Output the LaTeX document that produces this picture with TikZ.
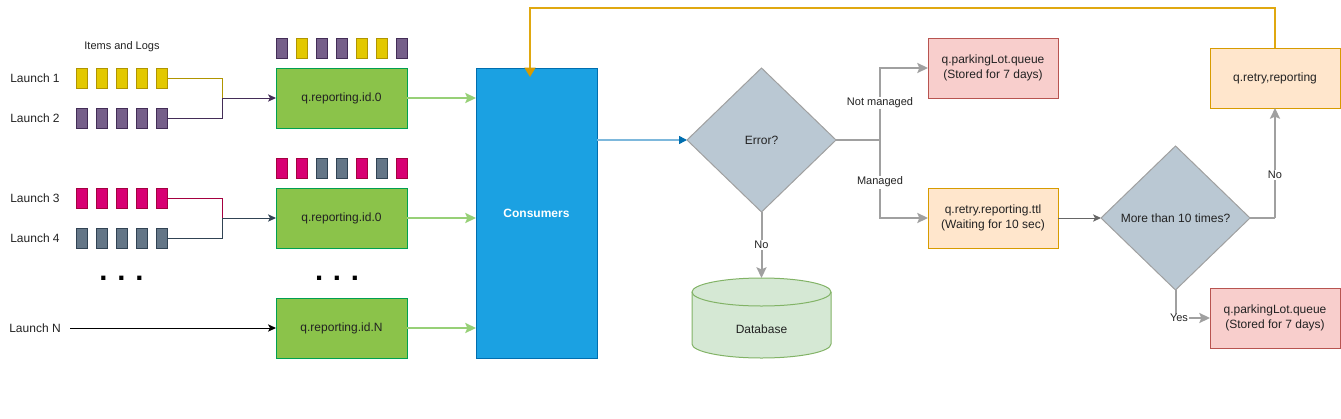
\documentclass[tikz,border=0pt]{standalone}
\usepackage{fontspec}
\setmainfont{Liberation Sans}
\usetikzlibrary{shapes.geometric,arrows.meta}
\definecolor{ylwF}{HTML}{E3C800}\definecolor{ylwD}{HTML}{B09500}
\definecolor{purF}{HTML}{76608A}\definecolor{purD}{HTML}{432D57}
\definecolor{magF}{HTML}{D80073}\definecolor{magD}{HTML}{A50040}
\definecolor{slaF}{HTML}{647687}\definecolor{slaD}{HTML}{314354}
\definecolor{grnF}{HTML}{8BC34A}\definecolor{grnD}{HTML}{00A050}
\definecolor{grnA}{HTML}{97D077}
\definecolor{bluF}{HTML}{1BA1E2}\definecolor{bluD}{HTML}{006EAF}\definecolor{bluL}{HTML}{7DB8DC}
\definecolor{diaF}{HTML}{BAC8D3}\definecolor{diaD}{HTML}{A0A0A0}
\definecolor{gryA}{HTML}{A0A0A0}
\definecolor{dbF}{HTML}{D5E8D4}\definecolor{dbD}{HTML}{82B366}
\definecolor{pnkF}{HTML}{F8CECC}\definecolor{pnkD}{HTML}{B85450}
\definecolor{orgF}{HTML}{FFE6CC}\definecolor{orgD}{HTML}{D79B00}\definecolor{orgL}{HTML}{E0A810}
\definecolor{txt}{HTML}{222222}
\tikzset{
  x=0.75pt, y=-0.75pt,
  every node/.style={font=\fontsize{9}{11}\selectfont, text=txt, inner sep=0pt, outer sep=0pt},
  sq/.style={draw=#1D, fill=#1F, line width=0.75pt, minimum width=8.25pt, minimum height=15pt},
  gbox/.style={draw=grnD, fill=grnF, line width=0.75pt, minimum width=98.25pt, minimum height=45pt},
  qbox/.style={draw=#1D, fill=#1F, line width=0.75pt, minimum width=97.5pt, minimum height=45pt, align=center},
  lbl/.style={font=\fontsize{8.25}{10}\selectfont},
  elbl/.style={font=\fontsize{8.25}{10}\selectfont, fill=white, inner sep=1pt},
  dia/.style={diamond, aspect=1, draw=diaD, fill=diaF, line width=0.75pt, minimum width=111.75pt, minimum height=108pt},
  tip/.style={-{Stealth[length=8pt,width=7.5pt,inset=1.5pt]}},
  garrow/.style={tip, draw=grnA, line width=1.5pt},
  grayarrow/.style={tip, draw=gryA, line width=1.5pt},
  dots/.style={font=\fontsize{22}{22}\selectfont\bfseries, text=black, anchor=base},
}
\begin{document}
\begin{tikzpicture}
\useasboundingbox (0,0) rectangle (1341,418);
% --- left labels
\node[lbl] (items) at (122,47) {Items and Logs};
\node (l1) at (35,78) {Launch 1};
\node (l2) at (35,118) {Launch 2};
\node (l3) at (35,198) {Launch 3};
\node (l4) at (35,238) {Launch 4};
\node (lN) at (35,328) {Launch N};
% --- launch squares
\foreach \i in {1,...,5}{
  \node[sq=ylw] (a\i) at ({61.5+20*\i},78) {};
  \node[sq=pur] (b\i) at ({61.5+20*\i},118) {};
  \node[sq=mag] (c\i) at ({61.5+20*\i},198) {};
  \node[sq=sla] (d\i) at ({61.5+20*\i},238) {};
}
% --- queue squares
\foreach \c [count=\k from 0] in {pur,ylw,pur,pur,ylw,ylw,pur}{
  \node[sq=\c] (t\k) at ({281.5+20*\k},48) {};
}
\foreach \c [count=\k from 0] in {mag,mag,sla,sla,mag,sla,mag}{
  \node[sq=\c] (u\k) at ({281.5+20*\k},168) {};
}
% --- green queues
\node[gbox] (g0) at (341.5,98) {q.reporting.id.0};
\node[gbox] (g1) at (341.5,218) {q.reporting.id.0};
\node[gbox] (gN) at (341.5,328) {q.reporting.id.N};
\node[dots] (dl) at (121.5,280) {.\,\,.\,\,.};
\node[dots] (dr) at (337,280) {.\,\,.\,\,.};
% --- merge connectors
\coordinate (m1) at (222,98);
\coordinate (m2) at (222,218);
\draw[ylwD, line width=0.75pt] (a5.east) -| (m1);
\draw[purD, line width=0.75pt] (b5.east) -| (m1);
\draw[purD, line width=0.75pt, -{Stealth[length=6pt,width=5.5pt,inset=1.5pt]}] (m1) -- (g0.west);
\draw[magD, line width=0.75pt] (c5.east) -| (m2);
\draw[slaD, line width=0.75pt] (d5.east) -| (m2);
\draw[slaD, line width=0.75pt, -{Stealth[length=6pt,width=5.5pt,inset=1.5pt]}] (m2) -- (g1.west);
\draw[black, line width=0.75pt, -{Stealth[length=6pt,width=5.5pt,inset=1.5pt]}] ([xshift=7pt]lN.east) -- (gN.west);
% --- consumers
\node[draw=bluD, fill=bluF, line width=0.75pt, minimum width=90.75pt, minimum height=217.5pt,
      text=white, font=\fontsize{9}{11}\selectfont\bfseries] (cons) at (536.5,213) {Consumers};
\draw[garrow] (g0.east) -- (g0.east -| cons.west);
\draw[garrow] (g1.east) -- (g1.east -| cons.west);
\draw[garrow] (gN.east) -- (gN.east -| cons.west);
% --- error diamond
\node[dia] (err) at (761.5,140) {Error?};
\draw[bluL, line width=1.1pt, -{Triangle[length=6pt,width=6pt,color=bluD]}] (cons.east |- err) -- (err.west);
% --- database
\node (db) at (761.5,318) [minimum width=104.25pt, minimum height=60pt] {};
\fill[dbF] (692,292) -- (692,344) .. controls (692,351.7) and (723.1,358) .. (761.5,358)
   .. controls (799.9,358) and (831,351.7) .. (831,344) -- (831,292) -- cycle;
\fill[dbF] (761.5,292) ellipse [x radius=69.5, y radius=14];
\draw[dbD, line width=0.75pt] (692,292) -- (692,344) .. controls (692,351.7) and (723.1,358) .. (761.5,358)
   .. controls (799.9,358) and (831,351.7) .. (831,344) -- (831,292);
\draw[dbD, line width=0.75pt] (761.5,292) ellipse [x radius=69.5, y radius=14];
\node at (761.5,329) {Database};
\draw[grayarrow] (err.south) -- (db.north) node[elbl, pos=0.5] {No};
% --- right side
\node[qbox=pnk] (pl1) at (993,68) {q.parkingLot.queue\\(Stored for 7 days)};
\node[qbox=org] (ttl) at (993,218) {q.retry.reporting.ttl\\(Waiting for 10 sec)};
\coordinate (sp) at (880,140);
\draw[gryA, line width=1.5pt] (err.east) -- (sp);
\draw[grayarrow] (sp) |- (pl1.west) node[elbl, pos=0.257] {Not managed};
\draw[grayarrow] (sp) |- (ttl.west) node[elbl, pos=0.27] {Managed};
\node[dia] (d2) at (1175.5,218) {More than 10 times?};
\draw[black!60, line width=0.75pt, -{Stealth[length=6pt,width=5.5pt,inset=1.5pt]}] (ttl.east) -- (d2.west);
\node[qbox=org] (retry) at (1275,78) {q.retry,reporting};
\node[qbox=pnk] (pl2) at (1275,318) {q.parkingLot.queue\\(Stored for 7 days)};
\coordinate (nr) at (1275,218);
\draw[gryA, line width=1.5pt] (d2.east) -- (nr);
\draw[grayarrow] (nr) -- (retry.south) node[elbl, pos=0.39] {No};
\coordinate (yc) at (1175.5,318);
\draw[gryA, line width=1.5pt] (d2.south) -- (yc);
\draw[grayarrow] (yc) -- (pl2.west);
\node[lbl, fill=white, inner sep=0.5pt] at (1179,318) {Yes};
% --- feedback loop
\coordinate (fb) at (530,77);
\draw[orgL, line width=1.5pt, -{Triangle[length=7pt,width=8pt,color=orgD]}] (retry.north) -- ++(0,-40) -| (fb);
\end{tikzpicture}
\end{document}
